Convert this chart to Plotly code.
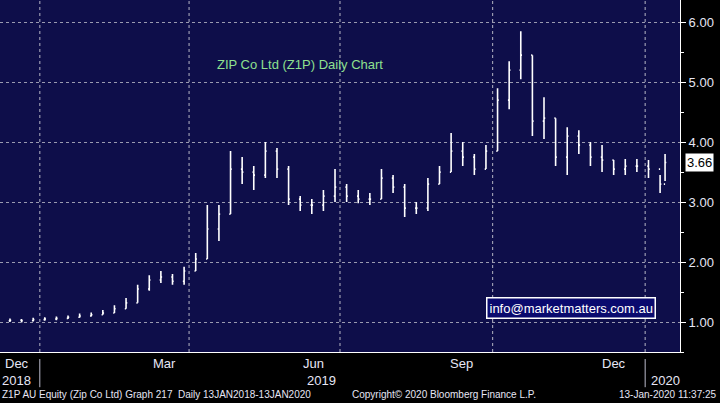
import pandas as pd
import plotly.graph_objects as go

# weekly bars, last bar is 13 Jan 2020
dates = list(pd.date_range('2018-12-07', periods=58, freq='7D')) + [pd.Timestamp('2020-01-13')]
closes = [1.02, 1.03, 1.02, 1.04, 1.05, 1.06, 1.08, 1.10, 1.12, 1.15,
          1.22, 1.32, 1.55, 1.70, 1.75, 1.68, 1.85, 2.05, 2.55, 2.80,
          3.55, 3.50, 3.45, 3.85, 3.55, 3.05, 2.95, 2.95, 3.10, 3.25,
          3.10, 3.05, 3.05, 3.40, 3.25, 2.90, 2.90, 3.30, 3.50, 3.85,
          3.75, 3.55, 3.85, 4.70, 5.20, 5.45, 4.35, 4.40, 3.75, 4.10,
          3.95, 3.75, 3.70, 3.55, 3.60, 3.60, 3.55, 3.30, 3.66]
highs = [1.05, 1.06, 1.05, 1.07, 1.08, 1.09, 1.11, 1.14, 1.16, 1.20,
         1.28, 1.40, 1.62, 1.78, 1.85, 1.80, 1.92, 2.15, 2.95, 2.95,
         3.85, 3.75, 3.60, 4.00, 3.90, 3.60, 3.10, 3.05, 3.20, 3.55,
         3.30, 3.20, 3.15, 3.55, 3.45, 3.30, 3.00, 3.40, 3.60, 4.15,
         4.00, 3.80, 3.95, 4.90, 5.35, 5.85, 5.45, 4.75, 4.40, 4.25,
         4.20, 4.00, 3.95, 3.70, 3.72, 3.72, 3.70, 3.45, 3.80]
lows = [0.98, 1.00, 0.99, 1.01, 1.02, 1.03, 1.05, 1.07, 1.09, 1.12,
        1.15, 1.22, 1.32, 1.52, 1.65, 1.62, 1.62, 1.85, 2.05, 2.35,
        2.80, 3.30, 3.20, 3.40, 3.40, 2.95, 2.85, 2.80, 2.85, 3.00,
        3.00, 2.98, 2.95, 3.05, 3.15, 2.75, 2.80, 2.85, 3.30, 3.50,
        3.60, 3.45, 3.55, 3.85, 4.55, 5.05, 4.10, 4.05, 3.60, 3.45,
        3.80, 3.60, 3.50, 3.45, 3.45, 3.50, 3.40, 3.15, 3.35]
opens = [1.01] + closes[:-1]

month_labels = ['Dec', 'Mar', 'Jun', 'Sep', 'Dec']
month_pos = ['2018-12-18', '2019-03-17', '2019-06-15', '2019-09-12', '2019-12-13']
year_labels = ['2018', '2019', '2020']
year_pos = ['2018-12-18', '2019-06-20', '2020-01-13']
grid_dates = ['2019-01-01', '2019-04-01', '2019-07-01', '2019-10-01', '2020-01-01']
last_price = 3.66

navy = '#0e0e4a'
txt = '#e6e6f5'
font = 'Liberation Sans Narrow, Arial Narrow, sans-serif'

fig = go.Figure(go.Ohlc(
    x=dates, open=opens, high=highs, low=lows, close=closes,
    increasing_line_color='white', decreasing_line_color='white',
    line_width=1.6, tickwidth=0.25, hoverinfo='x+y'
))

fig.update_layout(
    width=720, height=403,
    paper_bgcolor='black', plot_bgcolor=navy,
    margin=dict(l=0, r=40, t=0, b=51, autoexpand=False),
    showlegend=False,
    font=dict(family=font, color=txt, size=13),
    xaxis=dict(
        range=['2018-12-08', '2020-01-22'], rangeslider=dict(visible=False),
        showgrid=False, showticklabels=False, zeroline=False,
        showline=True, linecolor='white', linewidth=1,
    ),
    yaxis=dict(
        side='right', range=[0.5, 6.37], tickvals=[1, 2, 3, 4, 5, 6],
        tickformat='.2f', ticks='outside', ticklen=5, tickcolor='white',
        gridcolor='#9a9ab0', griddash='dot', gridwidth=1.2, automargin=False,
        showline=True, linecolor='white', linewidth=1, zeroline=False,
        tickfont=dict(size=13, color=txt),
        minor=dict(dtick=0.5, ticks='outside', ticklen=3, tickcolor='white'),
    ),
)

# vertical quarter gridlines
for d in grid_dates:
    fig.add_shape(type='line', xref='x', yref='paper', x0=d, x1=d, y0=0, y1=1,
                  line=dict(color='#9a9ab0', width=1.2, dash='dot'))
# year separators under the axis
for d in ['2019-01-01', '2020-01-01']:
    fig.add_shape(type='line', xref='x', yref='paper', x0=d, x1=d, y0=-0.02, y1=-0.1,
                  line=dict(color='#bbbbcc', width=1))

for lab, d in zip(month_labels, month_pos):
    fig.add_annotation(x=d, y=-0.005, xref='x', yref='paper', text=lab, showarrow=False,
                       yanchor='top', font=dict(size=13, color=txt))
for lab, d in zip(year_labels, year_pos):
    fig.add_annotation(x=d, y=-0.055, xref='x', yref='paper', text=lab, showarrow=False,
                       yanchor='top', font=dict(size=13, color=txt))

fig.add_annotation(x=0.0, y=-0.1, xref='paper', yref='paper', xanchor='left', yanchor='top',
                   text='Z1P AU Equity (Zip Co Ltd) Graph 217  Daily 13JAN2018-13JAN2020',
                   showarrow=False, font=dict(size=10, color=txt))
fig.add_annotation(x=0.515, y=-0.1, xref='paper', yref='paper', xanchor='left', yanchor='top',
                   text='Copyright\u00a9 2020 Bloomberg Finance L.P.',
                   showarrow=False, font=dict(size=10, color=txt))
fig.add_annotation(x=1.057, y=-0.1, xref='paper', yref='paper', xanchor='right', yanchor='top',
                   text='13-Jan-2020 11:37:25', showarrow=False, font=dict(size=10, color=txt))

fig.add_annotation(x='2019-06-07', y=5.3, xref='x', yref='y', text='ZIP Co Ltd (Z1P) Daily Chart',
                   showarrow=False, font=dict(size=13, color='#8fe08f', family='Liberation Sans, Arial'))
fig.add_annotation(x='2019-11-17', y=1.23, xref='x', yref='y', text='info@marketmatters.com.au',
                   showarrow=False, bgcolor='#0a0a6e', bordercolor='white', borderwidth=1.5,
                   borderpad=2, font=dict(size=13, color='white', family='Liberation Sans, Arial'))
fig.add_annotation(x=1.008, y=last_price, xref='paper', yref='y', xanchor='left',
                   text=f'{last_price:.2f}', showarrow=False, bgcolor='white',
                   font=dict(size=13, color='black'), borderpad=1)

fig.write_html('out.html', config={'displayModeBar': False},
               post_script="document.body.style.margin='0';")
